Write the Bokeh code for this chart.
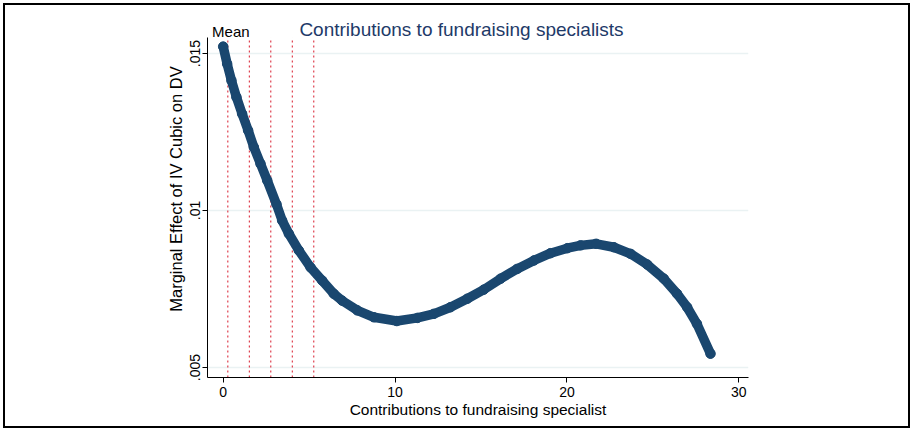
from bokeh.plotting import figure
from bokeh.models import Label, FixedTicker, Range1d
from bokeh.embed import file_html
from bokeh.resources import INLINE

# Values
xs = [0.0, 0.23, 0.48, 0.77, 1.10, 1.45, 1.78, 2.17, 2.56, 3.1, 3.43, 3.82,
      4.40, 5.08, 5.76, 6.43, 6.92, 7.80, 8.77, 10.1, 11.3, 12.26, 13.22,
      14.2, 15.16, 16.14, 17.1, 18.08, 19.04, 20.02, 20.79, 21.7, 22.73,
      23.7, 24.67, 25.63, 26.4, 26.99, 27.56, 28.35]
ys = [0.01522, 0.01467, 0.01414, 0.01361, 0.01308, 0.01255, 0.01202, 0.01149,
      0.01096, 0.0102, 0.00968, 0.00926, 0.00873, 0.00819, 0.00777, 0.00735,
      0.00713, 0.00682, 0.00660, 0.00648, 0.00658, 0.00671, 0.00692, 0.00719,
      0.00748, 0.00783, 0.00814, 0.00841, 0.00864, 0.0088, 0.00889, 0.00894,
      0.00883, 0.00862, 0.00828, 0.00783, 0.00735, 0.00692, 0.00639, 0.00544]
ref_lines = [0.27, 1.52, 2.77, 4.02, 5.27]
x_ticks = [0, 10, 20, 30]
y_ticks = [0.005, 0.01, 0.015]
y_tick_labels = [".005", ".01", ".015"]
title_text = "Contributions to fundraising specialists"
x_label = "Contributions to fundraising specialist"
y_label = "Marginal Effect of IV Cubic on DV"
mean_text = "Mean"

FONT = "Liberation Sans"
NAVY = "#1a476f"

# plot region limits (axis extent)
X0, X1 = -0.913, 30.56
Y0, Y1 = 0.004682, 0.015510
YTOP = 0.016688   # frame extends to the top of the canvas

p = figure(width=913, height=431, output_backend="svg", toolbar_location=None,
           x_range=Range1d(X0, X1), y_range=Range1d(Y0, YTOP),
           min_border_left=207, min_border_right=165, min_border_top=0,
           min_border_bottom=54)
p.outline_line_color = None
p.background_fill_color = None
p.border_fill_color = None
p.styles = {"background-color": "white",
            "box-shadow": "inset 0 0 0 3px white, inset 0 0 0 5px black",
            "outline": "2px solid black", "outline-offset": "-5px"}

# grid
p.xgrid.visible = False
p.ygrid.ticker = FixedTicker(ticks=y_ticks)
p.ygrid.grid_line_color = "#eaf2f3"
p.ygrid.grid_line_width = 1.5

# axes
p.xaxis.ticker = FixedTicker(ticks=x_ticks)
p.yaxis.ticker = FixedTicker(ticks=y_ticks)
p.yaxis.bounds = (Y0, Y1)
p.yaxis.major_label_overrides = {t: l for t, l in zip(y_ticks, y_tick_labels)}
p.yaxis.major_label_orientation = "vertical"
for ax in (p.xaxis[0], p.yaxis[0]):
    ax.axis_line_color = "black"
    ax.axis_line_width = 1
    ax.major_tick_line_color = "black"
    ax.major_tick_in = 0
    ax.major_tick_out = 5
    ax.minor_tick_line_color = None
    ax.major_label_text_font = FONT
    ax.major_label_text_font_size = "14px"
    ax.major_label_text_color = "black"
    ax.axis_label_text_font = FONT
    ax.axis_label_text_font_style = "normal"
    ax.axis_label_text_color = "black"
p.xaxis.axis_label = x_label
p.yaxis.axis_label = y_label
p.xaxis.axis_label_text_font_size = "15.5px"
p.yaxis.axis_label_text_font_size = "16.5px"
p.xaxis.major_label_standoff = 4
p.xaxis.axis_label_standoff = 1
p.yaxis.major_label_standoff = 2
p.yaxis.axis_label_standoff = 3

# reference lines
n = len(ref_lines)
p.segment(x0=ref_lines, y0=[Y0] * n, x1=ref_lines, y1=[Y1] * n,
          line_color="#d8182a", line_width=1, line_dash="2 3")

# curve
p.line(xs, ys, line_color=NAVY, line_width=9.5, line_cap="round", line_join="round")
p.scatter(xs, ys, size=9.5, fill_color=NAVY, line_color=NAVY)

# title and mean label (screen y measured up from the bottom of the frame)
p.add_layout(Label(x=254, y=348, x_units="screen", y_units="screen",
                   text=title_text, text_font=FONT, text_font_size="19px",
                   text_color="#1e3a68", text_align="center",
                   text_baseline="alphabetic"))
p.add_layout(Label(x=ref_lines[0], y=346, y_units="screen", x_offset=3,
                   text=mean_text, text_font=FONT, text_font_size="15px",
                   text_color="black", text_align="center",
                   text_baseline="alphabetic"))

open("out.html", "w").write(file_html(p, INLINE))
